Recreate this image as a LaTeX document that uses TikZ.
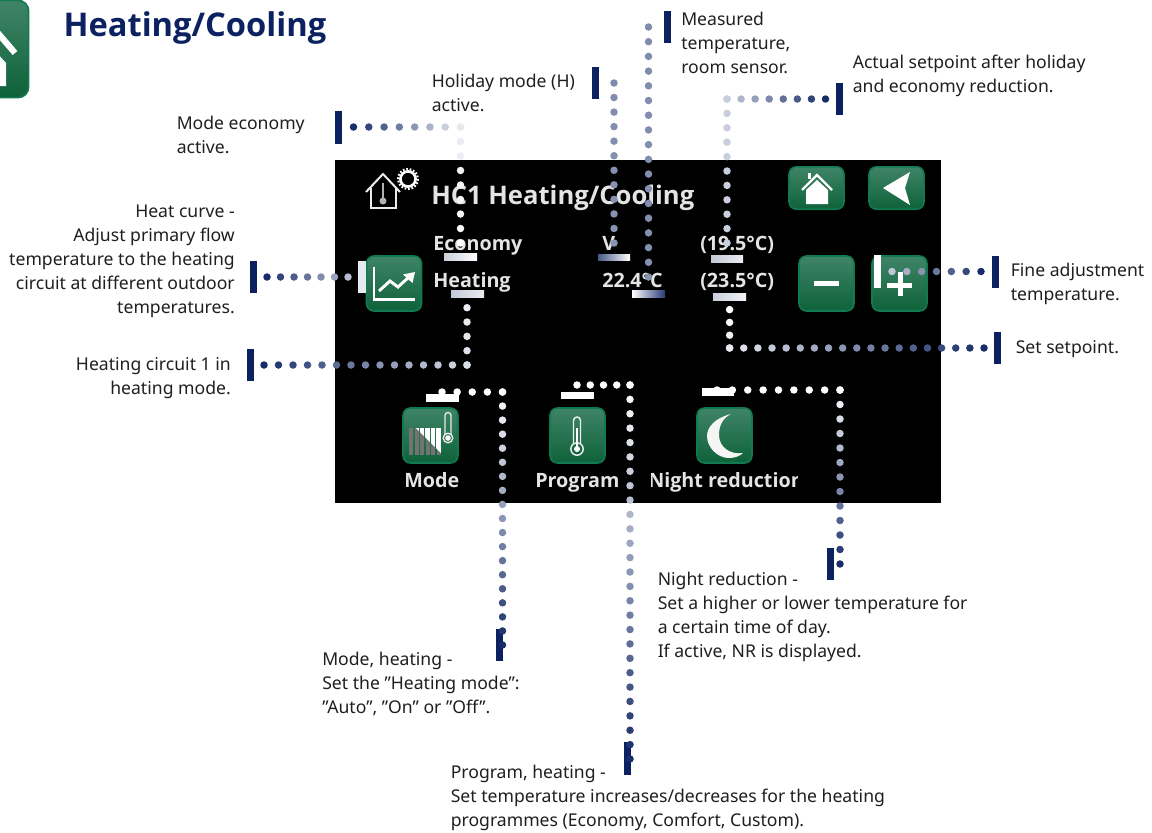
\documentclass[tikz,border=0pt]{standalone}
\usepackage{fontspec}
\setmainfont{Noto Sans}
\newfontfamily\hfont{Open Sans}
\usetikzlibrary{calc}
\definecolor{navy}{HTML}{0B2160}
\definecolor{scrtxt}{HTML}{E4E4E4}
\definecolor{btnedge}{HTML}{127A50}
\definecolor{btntop}{HTML}{3F8468}
\definecolor{btnbot}{HTML}{0E6239}
\tikzset{
  lab/.style={anchor=north west,inner sep=0pt,align=left,text=black!88,font=\fontsize{13.2}{18}\selectfont},
  labr/.style={anchor=north east,inner sep=0pt,align=right,text=black!88,font=\fontsize{13.2}{18}\selectfont},
  scr/.style={anchor=base west,inner sep=0pt,text=scrtxt,font=\fontsize{14.8}{18}\hfont\bfseries\selectfont},
  btn/.style={rounded corners=5.5pt,draw=btnedge,line width=1.2pt,top color=btntop,bottom color=btnbot,minimum width=41.2pt,minimum height=41.2pt,inner sep=0pt},
  wide/.style={minimum height=31.8pt},
  ink/.style={draw=white,line width=1.9pt,fill=none},
  thin/.style={draw=white!92!black,line width=1pt,fill=none}
}
\newcommand{\dotrun}[5]{%
  \foreach \myI in {0,...,#3}{%
    \pgfmathsetmacro\myT{\myI/#3}%
    \pgfmathsetmacro\myP{#4+(#5-#4)*\myT}%
    \fill[navy!\myP!white] ($(#1)!\myT!(#2)$) circle[radius=3.75];
  }}
\newcommand{\gbar}[6]{\shade[left color=#5,right color=#6] (#1,#2) rectangle (#3,#4);}
\newcommand{\nbar}[4]{\fill[navy] (#1,#2) rectangle (#3,#4);}
\begin{document}
\begin{tikzpicture}[x=0.75pt,y=-0.75pt]
\useasboundingbox (0,0) rectangle (1152,832);
\fill[white] (0,0) rectangle (1152,832);
\clip (0,0) rectangle (1152,832);

% corner icon
\node[btn,minimum width=52pt,minimum height=73pt,rounded corners=8pt] (corner) at (-6,49) {};
\draw[white,line width=4.6pt] (-3,32) -- (15,53);
\fill[white] (-3,53) -- (6,63) -- (6,86) -- (-3,86) -- cycle;

% heading
\node[anchor=base west,inner sep=0pt,text=navy,font=\fontsize{24.5}{28}\hfont\bfseries\selectfont] (title) at (63.3,36.5) {Heating/Cooling};

% screen
\fill[black] (335,160) rectangle (941,503);

% status icon
\draw[thin,line width=1.5pt,line join=round] (366,192) -- (383,174) -- (400,192);
\draw[thin,line width=1.5pt] (370.5,188) -- (370.5,208) -- (396,208) -- (396,188);
\draw[white!70!black,line width=2pt] (383,183) -- (383,198);
\fill[white!70!black] (383,201) circle[radius=3.5];
\draw[white,line width=2pt] (408,179) circle[radius=7.6];
\draw[white,line width=1.6pt,dash pattern=on 1.3pt off 1.3pt] (408,179) circle[radius=10];

% buttons
\node[btn] (graphbtn) at (394,283.5) {};
\node[btn,wide] (homebtn) at (816.5,188) {};
\node[btn,wide] (backbtn) at (896.5,188) {};
\node[btn] (minusbtn) at (826.5,283.5) {};
\node[btn] (plusbtn) at (899.5,283.5) {};
\node[btn] (modebtn) at (430.5,435.5) {};
\node[btn] (progbtn) at (577.5,435.5) {};
\node[btn] (nightbtn) at (724.5,435.5) {};

% graph glyph
\draw[ink,line width=2.2pt,line cap=butt] (374,267) -- (374,299.5) -- (415,299.5);
\draw[ink,line width=2.2pt] (379,291) -- (390,281) -- (398,287) -- (410,276);
\fill[white] (415,272) -- (412.5,283) -- (403,274.5) -- cycle;

% home glyph
\draw[ink,line width=1.8pt] (802,190) -- (817,175) -- (832,190);
\fill[white] (806,204) -- (806,190) -- (817,180) -- (828,190) -- (828,204) -- cycle;
\fill[white] (808,173) rectangle (811,179);

% back glyph
\fill[white] (883,188) -- (910,172) -- (905,188) -- (910,205) -- cycle;

% minus and plus
\fill[white] (814,281) rectangle (839,286);
\fill[white] (887,282.5) rectangle (912,287.5);
\fill[white] (897.5,272) rectangle (902.5,296);

% radiator glyph
\begin{scope}
  \foreach \myX in {411,416.5,422,427.5,433,438.5}{
    \draw[white!45!black,line width=3pt] (\myX,428) -- (\myX,455);
  }
  \clip (412,424) -- (446,424) -- (446,458) -- cycle;
  \foreach \myX in {411,416.5,422,427.5,433,438.5}{
    \draw[white,line width=3.2pt] (\myX,428) -- (\myX,455);
  }
\end{scope}
\draw[thin] (445,435) -- (445,415.5) arc[start angle=180,end angle=360,radius=3] -- (451,435);
\draw[thin] (448,438) circle[radius=4.8];
\fill[white] (448,438) circle[radius=2.8];

% thermometer glyph
\draw[thin,line width=1.1pt] (573.5,444) -- (573.5,420.5) arc[start angle=180,end angle=360,radius=3.5] -- (580.5,444);
\draw[thin,line width=1.1pt] (577,449) circle[radius=6.2];
\fill[white] (577,449) circle[radius=3];
\draw[white,line width=1pt] (577,428) -- (577,447);

% moon glyph
\fill[white!96!black] (731,414) .. controls (715,418) and (707,427) .. (707,436)
  .. controls (707,447) and (717,458) .. (729,458)
  .. controls (735,458) and (740,456) .. (743,453)
  .. controls (730,455) and (719,447) .. (719,435)
  .. controls (719,425) and (723,418) .. (731,414) -- cycle;

% screen text
\node[scr,font=\fontsize{19.2}{24}\hfont\bfseries\selectfont] (hc) at (431,204) {HC1 Heating/Cooling};
\node[scr] (eco) at (433,250) {Economy};
\node[scr] (heat) at (433,287) {Heating};
\node[scr] (vv) at (602,250) {V};
\node[scr] (meas) at (602,287) {22.4°C};
\node[scr] (setA) at (700,250) {(19.5°C)};
\node[scr] (setB) at (700,287) {(23.5°C)};
\node[scr] (mode) at (404,487) {Mode};
\node[scr] (prog) at (535,487) {Program};
\begin{scope}
  \clip (651,465) rectangle (797.5,500);
  \node[scr] (nigh) at (648,487) {Night reduction};
\end{scope}

% callout texts
\node[lab] (tEco) at (176.5,112) {\strut Mode economy\\active.};
\node[lab] (tHol) at (431.5,70) {\strut Holiday mode (H)\\active.};
\node[lab] (tMea) at (681,8) {\strut Measured\\temperature,\\room sensor.};
\node[lab] (tAct) at (852.5,51) {\strut Actual setpoint after holiday\\and economy reduction.};
\node[labr] (tCur) at (235,200) {\strut Heat curve -\\Adjust primary flow\\temperature to the heating\\circuit at different outdoor\\temperatures.};
\node[labr] (tCir) at (231,353) {\strut Heating circuit 1 in\\heating mode.};
\node[lab] (tFin) at (1010.5,259) {\strut Fine adjustment\\temperature.};
\node[lab] (tSet) at (1015.5,336) {\strut Set setpoint.};
\node[lab] (tNig) at (657.5,568) {\strut Night reduction -\\Set a higher or lower temperature for\\a certain time of day.\\If active, NR is displayed.};
\node[lab] (tMod) at (322,648) {\strut Mode, heating -\\Set the ”Heating mode”:\\”Auto”, ”On” or ”Off”.};
\node[lab] (tPro) at (450.5,761) {\strut Program, heating -\\Set temperature increases/decreases for the heating\\programmes (Economy, Comfort, Custom).};

% navy end bars
\nbar{335}{111}{342}{144}
\nbar{592}{67}{599}{99}
\nbar{664}{11}{671}{43}
\nbar{836}{83}{843}{115}
\nbar{250}{261}{257}{293}
\nbar{246.5}{349}{254}{381}
\nbar{992}{255.5}{999}{288}
\nbar{994}{332}{1001}{364}
\nbar{496}{629}{503}{661}
\nbar{624}{742}{631}{775}
\nbar{827}{548}{834}{580}

% pale target bars
\gbar{444}{253}{477}{260}{navy!22!white}{white}
\gbar{451}{290}{484}{297}{navy!25!white}{navy!8!white}
\gbar{598}{254}{630}{260}{navy!75!white}{white}
\gbar{632}{290}{665}{297}{white}{navy!88!white}
\gbar{711}{255}{743}{262}{navy!25!white}{navy!8!white}
\gbar{713}{293}{746}{300}{navy!22!white}{navy!5!white}
\fill[navy!10!white] (358,261) rectangle (366,293);
\fill[white] (874,255) rectangle (881,288);
\fill[white] (426,394) rectangle (459,402);
\fill[white] (561,392) rectangle (594,399);
\fill[white] (702,388) rectangle (734,396);

% route points
\coordinate (a1) at (353.5,127); \coordinate (a2) at (460.5,127); \coordinate (a3) at (460.5,243);
\coordinate (b1) at (614,83);    \coordinate (b2) at (614,243);
\coordinate (c1) at (648.5,27);  \coordinate (c2) at (648.5,277);
\coordinate (d1) at (825.5,99);  \coordinate (d2) at (727,99);     \coordinate (d3) at (727,243);
\coordinate (e1) at (267,277);   \coordinate (e2) at (348,277);
\coordinate (f1) at (264,365);   \coordinate (f2) at (467,365);    \coordinate (f3) at (467,307.7);
\coordinate (g1) at (442,392);   \coordinate (g2) at (502.5,392);  \coordinate (g3) at (502.5,645);
\coordinate (h1) at (577,385);   \coordinate (h2) at (630,385);    \coordinate (h3) at (630,759);
\coordinate (i1) at (717,390);   \coordinate (i2) at (840,390);    \coordinate (i3) at (840,564);
\coordinate (j1) at (981,271.5); \coordinate (j2) at (892,271.5);
\coordinate (k1) at (984,348);   \coordinate (k2) at (729.6,348);  \coordinate (k3) at (729.6,309.6);

% dotted leaders
\dotrun{a1}{a2}{7}{95}{10}
\dotrun{a2}{a3}{8}{10}{0}
\dotrun{b1}{b2}{11}{52}{48}
\dotrun{c1}{c2}{17}{52}{50}
\dotrun{d1}{d2}{7}{95}{22}
\dotrun{d2}{d3}{10}{22}{22}
\dotrun{e1}{e2}{6}{95}{30}
\dotrun{f1}{f2}{14}{95}{15}
\dotrun{f2}{f3}{4}{15}{8}
\dotrun{g1}{g2}{4}{0}{0}
\dotrun{g2}{g3}{18}{0}{95}
\dotrun{h1}{h2}{4}{0}{0}
\dotrun{h2}{h3}{26}{0}{95}
\dotrun{i1}{i2}{8}{0}{0}
\dotrun{i2}{i3}{12}{0}{95}
\dotrun{j1}{j2}{6}{95}{25}
\dotrun{k1}{k2}{18}{95}{10}
\dotrun{k2}{k3}{3}{10}{0}
\end{tikzpicture}
\end{document}
